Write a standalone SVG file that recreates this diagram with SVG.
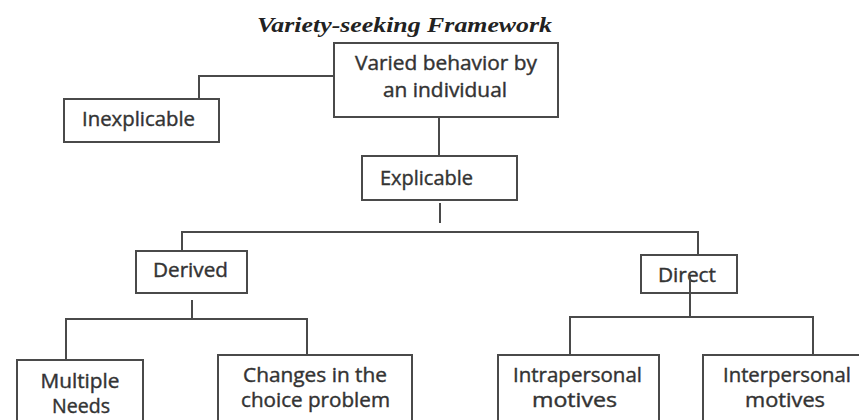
<svg xmlns="http://www.w3.org/2000/svg" width="859" height="420" viewBox="0 0 859 420">
<style>
.box{fill:#fff;stroke:#4a4a4a;stroke-width:2}
.lbl{font-family:"Open Sans","Noto Sans",sans-serif;font-size:19.5px;fill:#333;stroke:#333;stroke-width:0.4;text-anchor:middle}
.con{fill:none;stroke:#4a4a4a;stroke-width:2}
.title{font-family:"Liberation Serif","Times New Roman",serif;font-weight:bold;font-style:italic;font-size:21px;fill:#222;text-anchor:middle}
</style>
<rect width="859" height="420" fill="#fff"/>
<text class="title" x="404.5" y="32" textLength="295" lengthAdjust="spacingAndGlyphs">Variety-seeking Framework</text>
<g id="connectors">
<path class="con" d="M199,99 V76 H334"/>
<path class="con" d="M439,117 V156"/>
<path class="con" d="M440,203 V223"/>
<path class="con" d="M182,251 V232 H698 V255"/>
<path class="con" d="M192,300 V319"/>
<path class="con" d="M66,360 V319 H307 V355"/>
<path class="con" d="M570,355 V317 H813 V355"/>
</g>
<g id="varied"><rect class="box" x="334" y="43" width="224" height="74"/>
<text class="lbl" x="446" y="70" textLength="182" lengthAdjust="spacingAndGlyphs">Varied behavior by</text>
<text class="lbl" x="445" y="97" textLength="124" lengthAdjust="spacingAndGlyphs">an individual</text></g>
<g id="inexplicable"><rect class="box" x="64" y="99" width="155" height="43"/>
<text class="lbl" x="138.5" y="126" textLength="113" lengthAdjust="spacingAndGlyphs">Inexplicable</text></g>
<g id="explicable"><rect class="box" x="362" y="156" width="155" height="44"/>
<text class="lbl" x="426.5" y="185" textLength="93" lengthAdjust="spacingAndGlyphs">Explicable</text></g>
<g id="derived"><rect class="box" x="136" y="251" width="111" height="42"/>
<text class="lbl" x="190.5" y="277" textLength="75" lengthAdjust="spacingAndGlyphs">Derived</text></g>
<g id="direct"><rect class="box" x="641" y="255" width="96" height="38"/>
<text class="lbl" x="687" y="282" textLength="58" lengthAdjust="spacingAndGlyphs">Direct</text>
<path class="con" d="M690,276 V317"/></g>
<g id="multiple"><rect class="box" x="17" y="360" width="126" height="75"/>
<text class="lbl" x="80" y="388" textLength="79" lengthAdjust="spacingAndGlyphs">Multiple</text>
<text class="lbl" x="81" y="413" textLength="58" lengthAdjust="spacingAndGlyphs">Needs</text></g>
<g id="changes"><rect class="box" x="218" y="355" width="194" height="80"/>
<text class="lbl" x="315" y="382" textLength="144" lengthAdjust="spacingAndGlyphs">Changes in the</text>
<text class="lbl" x="315.5" y="407" textLength="149" lengthAdjust="spacingAndGlyphs">choice problem</text></g>
<g id="intrapersonal"><rect class="box" x="498" y="355" width="161" height="80"/>
<text class="lbl" x="577.5" y="382" textLength="129" lengthAdjust="spacingAndGlyphs">Intrapersonal</text>
<text class="lbl" x="574.5" y="407" textLength="85" lengthAdjust="spacingAndGlyphs">motives</text></g>
<g id="interpersonal"><rect class="box" x="703" y="355" width="170" height="80"/>
<text class="lbl" x="787" y="382" textLength="128" lengthAdjust="spacingAndGlyphs">Interpersonal</text>
<text class="lbl" x="785" y="407" textLength="80" lengthAdjust="spacingAndGlyphs">motives</text></g>
</svg>
